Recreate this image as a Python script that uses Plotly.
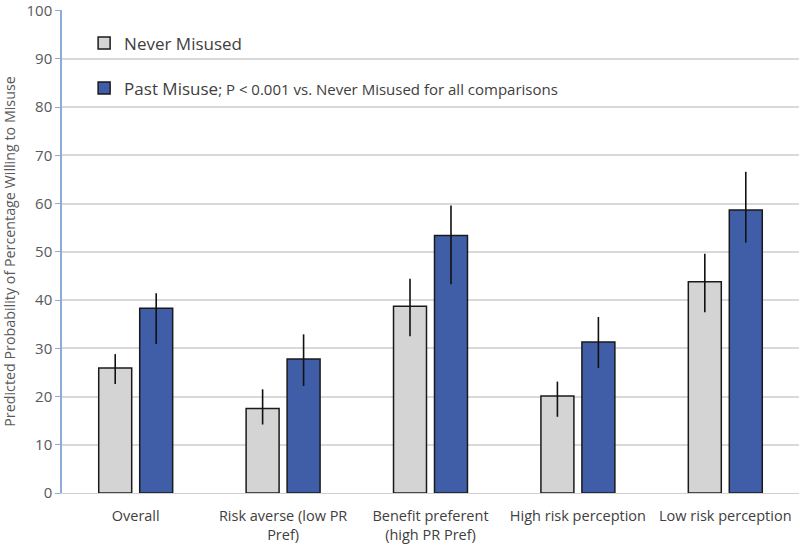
import plotly.graph_objects as go

categories = ["Overall", "Risk averse (low PR<br>Pref)", "Benefit preferent<br>(high PR Pref)",
              "High risk perception", "Low risk perception"]
never_vals = [25.9, 17.5, 38.7, 20.1, 43.8]
never_hi = [28.8, 21.5, 44.4, 23.1, 49.6]
never_lo = [22.6, 14.2, 32.5, 15.8, 37.5]
past_vals = [38.3, 27.8, 53.4, 31.3, 58.7]
past_hi = [41.4, 32.9, 59.6, 36.5, 66.6]
past_lo = [30.9, 22.2, 43.3, 25.9, 51.9]

y_ticks = list(range(0, 101, 10))

def err(vals, hi, lo):
    return dict(type="data", symmetric=False,
                array=[h - v for h, v in zip(hi, vals)],
                arrayminus=[v - l for v, l in zip(vals, lo)],
                color="#111111", thickness=1.6, width=0)

fig = go.Figure()
fig.add_trace(go.Bar(
    x=categories, y=never_vals, name="Never Misused", legendgroup="a",
    marker=dict(color="#d4d4d4", line=dict(color="#1a1a1a", width=1.5)),
    error_y=err(never_vals, never_hi, never_lo)))
fig.add_trace(go.Bar(
    x=categories, y=past_vals,
    name="Past Misuse<span style='font-size:15px'>; P < 0.001 vs. Never Misused for all comparisons</span>",
    legendgroup="b",
    marker=dict(color="#405ea8", line=dict(color="#1a1a1a", width=1.5)),
    error_y=err(past_vals, past_hi, past_lo)))

fig.update_layout(
    width=800, height=546,
    margin=dict(l=62, r=1, t=10, b=53),
    paper_bgcolor="white", plot_bgcolor="white",
    font=dict(family="Open Sans, Lato, sans-serif", color="#404040"),
    barmode="group", bargap=0.444, bargroupgap=0.195,
    showlegend=True,
    legend=dict(x=0.030, y=0.968, xanchor="left", yanchor="top",
                bgcolor="rgba(0,0,0,0)", font=dict(size=17, color="#404040"),
                tracegroupgap=20, traceorder="grouped", itemwidth=30),
    xaxis=dict(showgrid=False, showline=True, linecolor="#d0d0d0", linewidth=1,
               ticks="", automargin=False, ticklabelstandoff=10,
               tickfont=dict(size=14.5, color="#404040")),
    yaxis=dict(range=[0, 100.15], tickvals=y_ticks, showgrid=True, gridcolor="#d9d9d9",
               gridwidth=1.5, showline=True, linecolor="#8eaadb", linewidth=1.5,
               ticks="outside", ticklen=5, tickcolor="#8eaadb", automargin=False,
               ticklabeloverflow="allow",
               tickfont=dict(size=15, color="#595959"), zeroline=False,
               title=dict(text="Predicted Probability of Percentage Willing to Misuse",
                          font=dict(size=14.3, color="#595959"), standoff=24)),
)

fig.write_html("out.html", config={"displayModeBar": False},
               post_script="document.body.style.margin='0';")
